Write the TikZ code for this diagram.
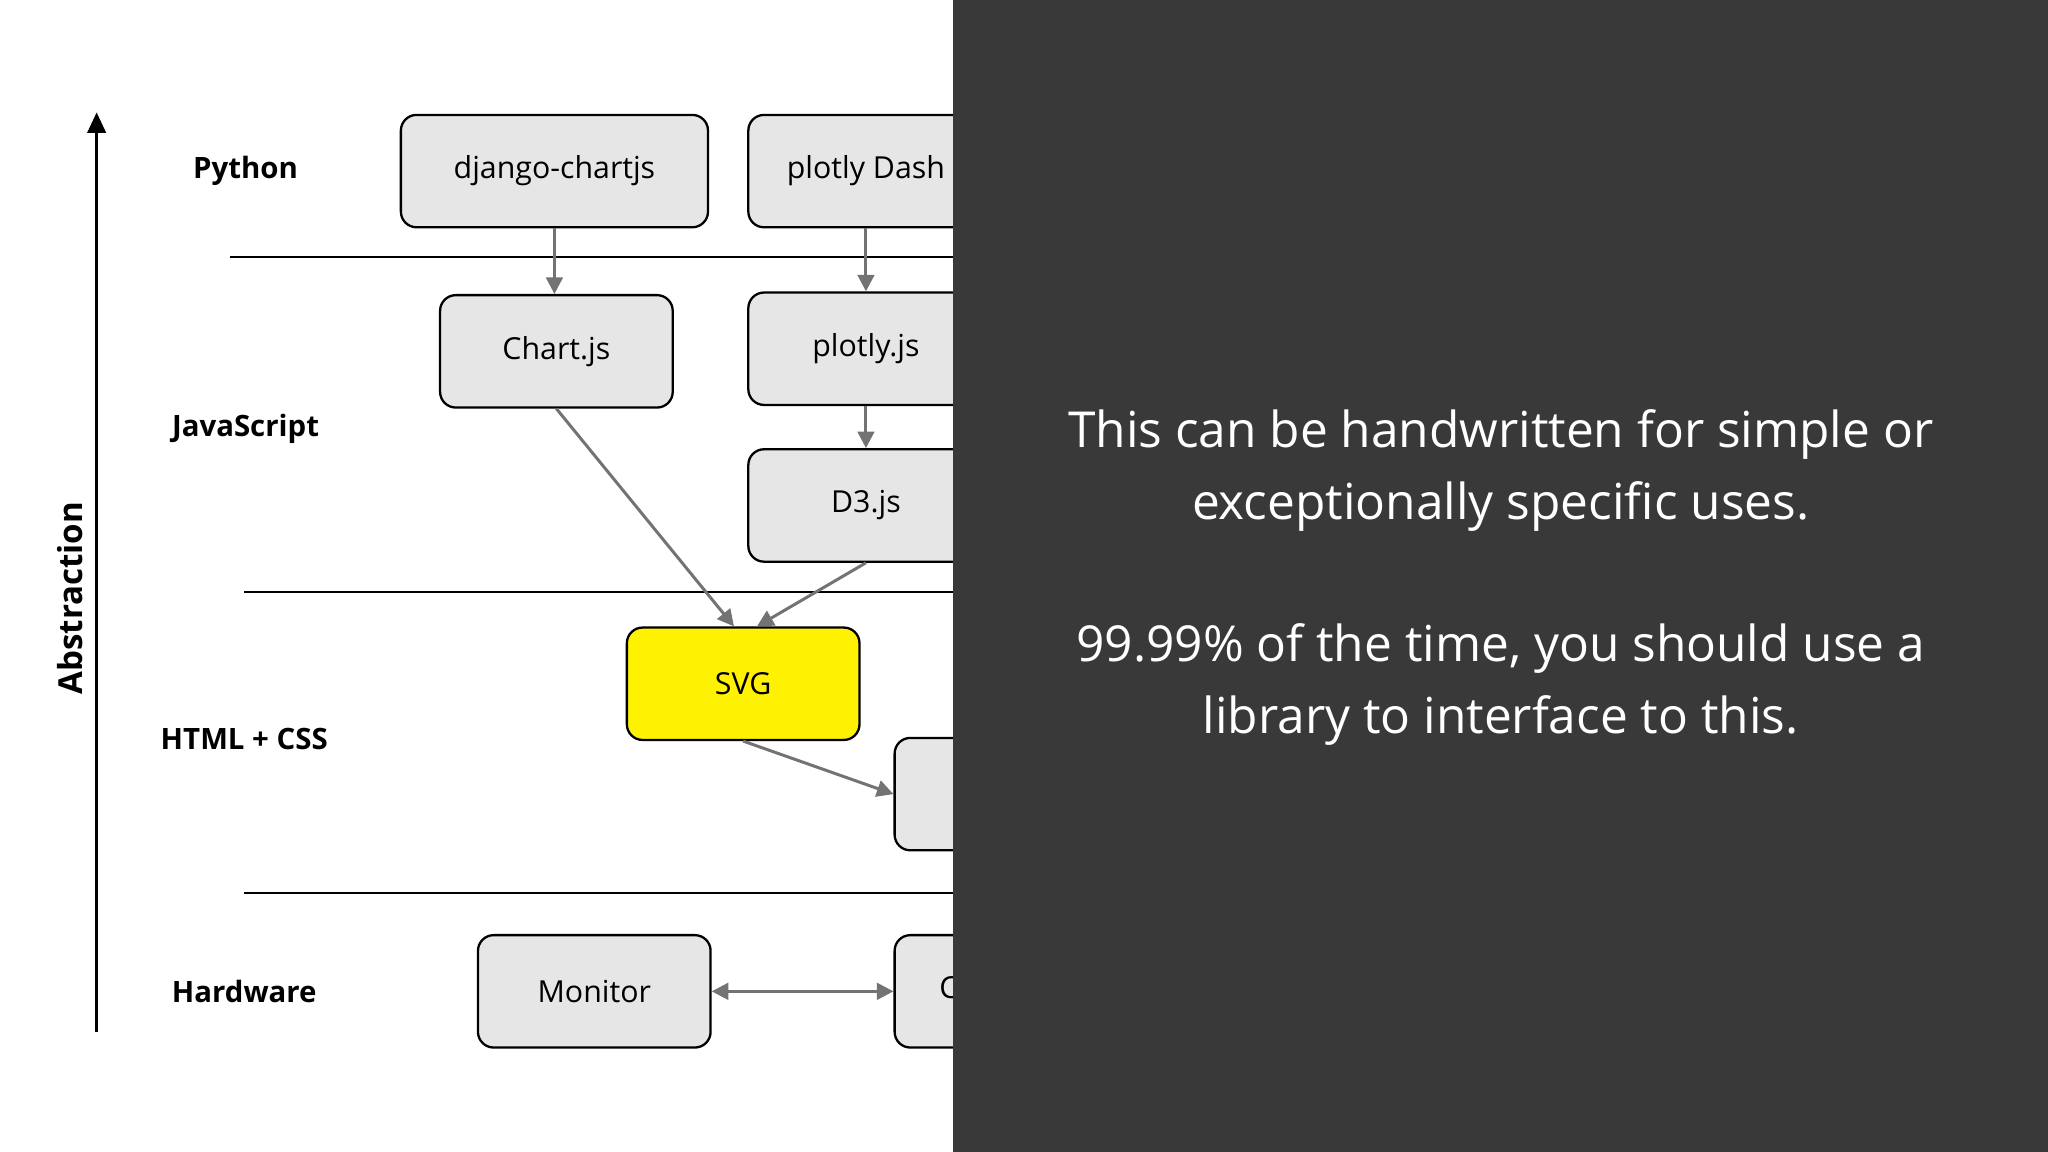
\documentclass[tikz,border=0pt]{standalone}
\usepackage{fontspec}
\setmainfont{Open Sans}
\usetikzlibrary{arrows.meta}
\definecolor{boxfill}{HTML}{E6E6E6}
\definecolor{arr}{HTML}{737373}
\definecolor{panel}{HTML}{3A393A}
\tikzset{
 box/.style={draw=black, line width=0.5pt, fill=boxfill, rounded corners=0.12cm, minimum height=0.86cm, inner sep=0pt, font=\fontsize{6.6}{8}\selectfont},
 lay/.style={font=\bfseries\fontsize{6.4}{8}\selectfont},
 con/.style={draw=arr, line width=0.65pt, -{Triangle[length=3.6pt,width=3.6pt]}},
 sep/.style={line width=0.4pt}
}
\begin{document}
\begin{tikzpicture}[x=0.01cm,y=-0.01cm]
\useasboundingbox (0,0) rectangle (1568,882);
\fill[white] (0,0) rectangle (1568,882);
% axis
\coordinate (ab) at (74,790); \coordinate (at) at (74,86);
\draw[line width=0.7pt,-{Triangle[length=4.5pt,width=4pt]}] (ab) -- (at);
\node[rotate=90,font=\bfseries\fontsize{7.2}{9}\selectfont] (abs) at (54,458) {Abstraction};
% layer labels
\node[lay] (lpy) at (188,131) {Python};
\node[lay] (ljs) at (188,328) {JavaScript};
\node[lay] (lhc) at (187,566) {HTML + CSS};
\node[lay] (lhw) at (187,759) {Hardware};
% separators
\coordinate (s1a) at (176,197); \coordinate (s1b) at (740,197);
\coordinate (s2a) at (187,453); \coordinate (s2b) at (740,453);
\coordinate (s3a) at (187,684); \coordinate (s3b) at (740,684);
\draw[sep] (s1a) -- (s1b); \draw[sep] (s2a) -- (s2b); \draw[sep] (s3a) -- (s3b);
% boxes
\node[box,minimum width=2.35cm] (dj) at (424.5,131) {django-chartjs};
\node[box,minimum width=1.80cm] (dash) at (663,131) {plotly Dash};
\node[box,minimum width=1.78cm] (cjs) at (426,269) {Chart.js};
\node[box,minimum width=1.80cm] (pjs) at (663,267) {plotly.js};
\node[box,minimum width=1.80cm] (d3) at (663,387) {D3.js};
\node[box,minimum width=1.78cm,fill=yellow] (svg) at (569,523.5) {SVG};
\node[box,minimum width=1.78cm] (brw) at (774,608) {Browser};
\node[box,minimum width=1.78cm] (mon) at (455,759) {Monitor};
\node[box,minimum width=1.78cm] (cmp) at (774,759) {Computer};
% connectors
\draw[con] (dj.south) -- (dj.south|-cjs.north);
\draw[con] (dash.south) -- (pjs.north);
\draw[con] (pjs.south) -- (d3.north);
\draw[con] (cjs.south) -- ([xshift=-2]svg.north);
\draw[con] (d3.south) -- ([xshift=3]svg.north);
\draw[con] (svg.south) -- (brw.west);
\draw[con,{Triangle[length=3.6pt,width=3.6pt]}-{Triangle[length=3.6pt,width=3.6pt]}] (mon.east) -- (cmp.west);
% panel
\fill[panel] (730,0) rectangle (1568,882);
\node[text=white, align=center, font=\fontsize{10.8}{15.6}\selectfont] (t1) at (1149,360) {This can be handwritten for simple or\\exceptionally specific uses.};
\node[text=white, align=center, font=\fontsize{10.8}{15.6}\selectfont] (t2) at (1149,524) {99.99\% of the time, you should use a\\library to interface to this.};
\end{tikzpicture}
\end{document}
